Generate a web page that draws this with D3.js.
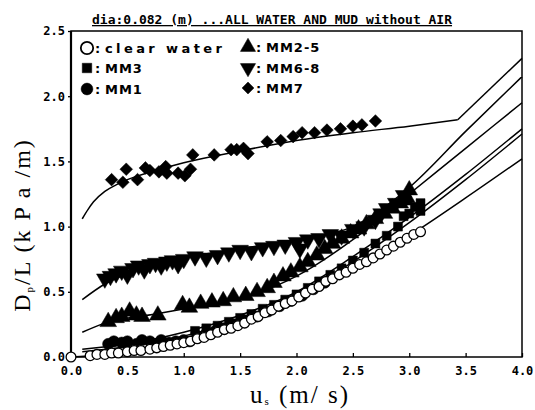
<!DOCTYPE html>
<html>
<head>
<meta charset="utf-8">
<script src="https://cdn.jsdelivr.net/npm/d3@7"></script>
<style>
  body { margin: 0; background: #fff; }
  svg { display: block; }
</style>
</head>
<body>
<div id="chart"></div>
<script>
// axis ticks
const xTicks = [0, 0.5, 1.0, 1.5, 2.0, 2.5, 3.0, 3.5, 4.0];
const yTicks = [0, 0.5, 1.0, 1.5, 2.0, 2.5];

// measured points [us, Dp/L]
const clearWater = [[0.0,0.0],[0.17,0.01],[0.23,0.02],[0.3,0.02],[0.36,0.03],[0.42,0.03],[0.5,0.04],[0.56,0.05],[0.62,0.05],[0.7,0.06],[0.76,0.07],[0.82,0.08],[0.88,0.09],[0.94,0.1],[1.0,0.11],[1.06,0.12],[1.12,0.14],[1.18,0.15],[1.24,0.17],[1.3,0.19],[1.36,0.21],[1.42,0.22],[1.48,0.24],[1.54,0.26],[1.6,0.29],[1.66,0.31],[1.72,0.34],[1.78,0.36],[1.84,0.39],[1.9,0.41],[1.96,0.43],[2.02,0.46],[2.08,0.49],[2.14,0.52],[2.2,0.54],[2.26,0.58],[2.32,0.6],[2.38,0.63],[2.44,0.65],[2.5,0.68],[2.56,0.71],[2.62,0.73],[2.68,0.76],[2.74,0.79],[2.8,0.82],[2.86,0.85],[2.92,0.88],[2.98,0.91],[3.04,0.94],[3.1,0.96]];
const mm3 = [[1.1,0.2],[1.2,0.22],[1.3,0.24],[1.4,0.27],[1.5,0.3],[1.6,0.33],[1.7,0.37],[1.8,0.4],[1.9,0.44],[2.0,0.48],[2.1,0.53],[2.2,0.58],[2.3,0.63],[2.4,0.68],[2.5,0.74],[2.6,0.8],[2.7,0.87],[2.8,0.93],[2.9,1.0],[2.95,1.08],[3.0,1.1],[3.05,1.15],[3.1,1.18],[3.1,1.12],[2.98,1.2]];
const mm1 = [[0.33,0.1],[0.38,0.12],[0.45,0.11],[0.5,0.12],[0.58,0.1],[0.63,0.13],[0.7,0.12],[0.76,0.1],[0.8,0.13],[0.87,0.11],[0.93,0.12],[1.0,0.13],[1.05,0.12],[1.12,0.16],[1.2,0.18],[1.28,0.2],[1.35,0.22],[1.45,0.25],[1.55,0.28],[1.65,0.31],[1.75,0.35],[1.85,0.39],[1.95,0.43],[2.05,0.47],[2.15,0.52],[2.25,0.57]];
const mm25 = [[0.33,0.27],[0.4,0.3],[0.45,0.31],[0.52,0.35],[0.58,0.32],[0.63,0.31],[0.77,0.32],[0.99,0.4],[1.05,0.38],[1.15,0.41],[1.25,0.42],[1.35,0.43],[1.44,0.46],[1.55,0.47],[1.65,0.5],[1.74,0.53],[1.8,0.57],[1.88,0.62],[1.95,0.65],[2.03,0.69],[2.1,0.73],[2.18,0.78],[2.25,0.83],[2.32,0.87],[2.4,0.91],[2.48,0.95],[2.55,0.98],[2.62,1.02],[2.7,1.06],[2.78,1.1],[2.85,1.14],[2.92,1.18],[2.98,1.22],[3.0,1.28]];
const mm68 = [[0.3,0.6],[0.35,0.62],[0.4,0.64],[0.45,0.66],[0.5,0.63],[0.55,0.68],[0.6,0.7],[0.65,0.67],[0.7,0.71],[0.75,0.72],[0.8,0.7],[0.85,0.73],[0.9,0.74],[0.95,0.71],[1.0,0.75],[1.1,0.77],[1.2,0.76],[1.3,0.78],[1.4,0.8],[1.5,0.82],[1.6,0.81],[1.7,0.84],[1.8,0.85],[1.9,0.86],[2.0,0.88],[2.03,0.83],[2.1,0.9],[2.2,0.91],[2.3,0.94],[2.4,0.93],[2.5,0.98],[2.6,1.0],[2.7,1.05],[2.75,1.1],[2.8,1.14],[2.88,1.18],[2.95,1.24]];
const mm7 = [[0.36,1.36],[0.49,1.44],[0.46,1.34],[0.59,1.36],[0.66,1.45],[0.7,1.43],[0.78,1.42],[0.84,1.46],[0.85,1.41],[0.95,1.41],[1.01,1.39],[1.06,1.44],[1.08,1.55],[1.27,1.55],[1.42,1.59],[1.47,1.59],[1.53,1.6],[1.57,1.56],[1.74,1.65],[1.86,1.66],[1.97,1.69],[2.05,1.72],[2.16,1.72],[2.27,1.74],[2.39,1.75],[2.5,1.77],[2.58,1.78],[2.7,1.81]];

// fitted curves
const fitMM7 = [[0.1,1.06],[0.15,1.13],[0.2,1.19],[0.3,1.27],[0.4,1.32],[0.5,1.36],[0.75,1.43],[1.0,1.49],[1.5,1.58],[2.0,1.66],[2.5,1.72],[3.0,1.77],[3.43,1.82]];
const extMM7 = [[3.43,1.82],[4.0,2.29]];
const fitMM68 = [[0.1,0.44],[0.3,0.56],[0.5,0.64],[1.0,0.76],[1.5,0.83],[2.0,0.9],[2.5,1.0],[3.0,1.3],[3.5,1.73],[4.0,2.15]];
const fitMM25 = [[0.1,0.19],[0.3,0.26],[0.75,0.33],[1.2,0.4],[1.5,0.45],[2.0,0.62],[2.5,0.9],[3.0,1.25],[3.5,1.6],[4.0,1.95]];
const fitMM3 = [[0.1,0.06],[0.5,0.1],[1.0,0.19],[1.5,0.32],[2.0,0.5],[2.5,0.77],[3.0,1.07],[3.5,1.4],[4.0,1.75]];
const fitMM1 = [[0.1,0.04],[0.5,0.08],[1.0,0.16],[1.5,0.29],[2.0,0.47],[2.5,0.73],[3.0,1.03],[3.5,1.36],[4.0,1.71]];
const fitClear = [[0.0,0.0],[0.5,0.03],[1.0,0.1],[1.5,0.25],[2.0,0.44],[2.5,0.67],[3.0,0.93],[3.5,1.22],[4.0,1.52]];

const width = 535, height = 410;
const margin = { top: 31, right: 13, bottom: 53, left: 71 };
const iW = width - margin.left - margin.right;
const iH = height - margin.top - margin.bottom;

const svg = d3.select("#chart").append("svg")
  .attr("width", width)
  .attr("height", height);

const g = svg.append("g")
  .attr("transform", `translate(${margin.left},${margin.top})`);

const x = d3.scaleLinear().domain([0, 4]).range([0, iW]);
const y = d3.scaleLinear().domain([0, 2.5]).range([iH, 0]);

const monoFont = "'DejaVu Sans Mono', monospace";

// frame
g.append("rect")
  .attr("width", iW).attr("height", iH)
  .attr("fill", "none").attr("stroke", "#000").attr("stroke-width", 1.5);
g.append("line")
  .attr("x1", 0).attr("x2", 0).attr("y1", 0).attr("y2", iH)
  .attr("stroke", "#000").attr("stroke-width", 2.2);

// axes
g.append("g")
  .attr("transform", `translate(0,${iH})`)
  .call(d3.axisBottom(x).tickValues(xTicks).tickSizeInner(-4).tickSizeOuter(0).tickPadding(9).tickFormat(d3.format(".1f")))
  .call(a => a.select(".domain").remove())
  .call(a => a.selectAll("line").attr("stroke-width", 1.3))
  .call(a => a.selectAll("text").style("font-family", monoFont).style("font-weight", "bold").style("font-size", "12px"));

g.append("g")
  .call(d3.axisLeft(y).tickValues(yTicks).tickSizeInner(3).tickSizeOuter(0).tickPadding(3).tickFormat(d3.format(".1f")))
  .call(a => a.select(".domain").remove())
  .call(a => a.selectAll("line").attr("stroke-width", 1.3))
  .call(a => a.selectAll("text").style("font-family", monoFont).style("font-weight", "bold").style("font-size", "12px"));

// fitted lines
const line = d3.line().x(d => x(d[0])).y(d => y(d[1])).curve(d3.curveMonotoneX);
[fitMM7, extMM7, fitMM68, fitMM25, fitMM3, fitMM1, fitClear].forEach(pts => {
  g.append("path")
    .attr("d", line(pts))
    .attr("fill", "none")
    .attr("stroke", "#000")
    .attr("stroke-width", 1.5);
});

// markers
function drawSeries(data, type, size, rot, fill) {
  g.append("g").selectAll("path")
    .data(data)
    .join("path")
    .attr("d", d3.symbol().type(type).size(size)())
    .attr("transform", d => `translate(${x(d[0])},${y(d[1])}) rotate(${rot})`)
    .attr("fill", fill)
    .attr("stroke", "#000")
    .attr("stroke-width", fill === "#fff" ? 1.3 : 0.5);
}
drawSeries(mm7, d3.symbolSquare, 80, 45, "#000");
drawSeries(mm68, d3.symbolTriangle, 120, 180, "#000");
drawSeries(mm25, d3.symbolTriangle, 120, 0, "#000");
drawSeries(mm3, d3.symbolSquare, 80, 0, "#000");
drawSeries(mm1, d3.symbolCircle, 100, 0, "#000");
drawSeries(clearWater, d3.symbolCircle, 75, 0, "#fff");

// legend
const legendItems = [
  { label: "clear water", type: d3.symbolCircle, size: 120, rot: 0, fill: "#fff", lx: 87, ly: 48, spacing: 3.4 },
  { label: "MM3", type: d3.symbolSquare, size: 90, rot: 0, fill: "#000", lx: 87, ly: 68, spacing: 1 },
  { label: "MM1", type: d3.symbolCircle, size: 110, rot: 0, fill: "#000", lx: 87, ly: 89, spacing: 1 },
  { label: "MM2-5", type: d3.symbolTriangle, size: 100, rot: 0, fill: "#000", lx: 248, ly: 47, spacing: 1 },
  { label: "MM6-8", type: d3.symbolTriangle, size: 100, rot: 180, fill: "#000", lx: 248, ly: 68, spacing: 1 },
  { label: "MM7", type: d3.symbolSquare, size: 70, rot: 45, fill: "#000", lx: 248, ly: 88, spacing: 1 }
];
legendItems.forEach(it => {
  svg.append("path")
    .attr("d", d3.symbol().type(it.type).size(it.size)())
    .attr("transform", `translate(${it.lx},${it.ly}) rotate(${it.rot})`)
    .attr("fill", it.fill)
    .attr("stroke", "#000")
    .attr("stroke-width", it.fill === "#fff" ? 1.8 : 0.5);
  svg.append("text")
    .attr("x", it.lx + 8)
    .attr("y", it.ly + 5)
    .style("font-family", "'DejaVu Sans', sans-serif")
    .style("font-size", "13px")
    .style("font-weight", "bold")
    .text(":");
  svg.append("text")
    .attr("x", it.lx + 18)
    .attr("y", it.ly + 5)
    .style("font-family", "'DejaVu Sans', sans-serif")
    .style("font-size", "13px")
    .style("font-weight", "bold")
    .style("letter-spacing", it.spacing + "px")
    .text(it.label);
});

// title
svg.append("text")
  .attr("x", 92)
  .attr("y", 24)
  .style("font-family", monoFont)
  .style("font-weight", "bold")
  .style("font-size", "13px")
  .style("text-decoration", "underline")
  .text("dia:0.082 (m) ...ALL WATER AND MUD without AIR");

// axis titles
const xl = svg.append("text")
  .attr("x", 300)
  .attr("y", 403)
  .attr("text-anchor", "middle")
  .style("font-family", "'Liberation Serif', serif")
  .style("font-size", "25px")
  .style("letter-spacing", "2px");
xl.append("tspan").text("u");
xl.append("tspan").attr("dy", 2).style("font-size", "11px").text("s");
xl.append("tspan").attr("dy", -2).text(" (m/ s)");

const yl = svg.append("text")
  .attr("transform", "translate(30,225) rotate(-90)")
  .attr("text-anchor", "middle")
  .style("font-family", "'Liberation Serif', serif")
  .style("font-size", "24px")
  .style("letter-spacing", "2px");
yl.append("tspan").text("D");
yl.append("tspan").attr("dy", 3).style("font-size", "11px").text("p");
yl.append("tspan").attr("dy", -3).text("/L (k P a /m)");
</script>
</body>
</html>
